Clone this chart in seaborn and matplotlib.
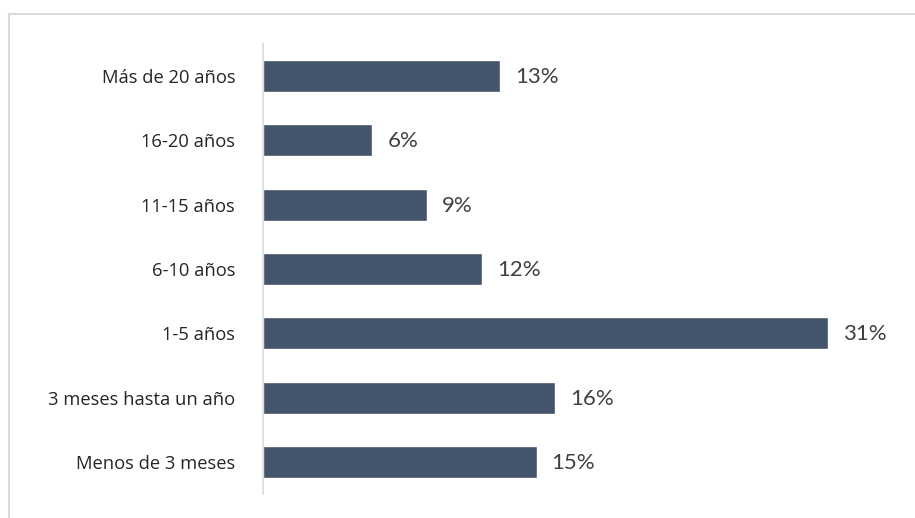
import matplotlib
matplotlib.use("Agg")
import matplotlib.pyplot as plt
from matplotlib.lines import Line2D
import seaborn as sns
import pandas as pd

# Tenure categories and their share of respondents
categories = [
    "Más de 20 años",
    "16-20 años",
    "11-15 años",
    "6-10 años",
    "1-5 años",
    "3 meses hasta un año",
    "Menos de 3 meses",
]
shares = [13, 6, 9, 12, 31, 16, 15]

df = pd.DataFrame({"categoria": categories, "porcentaje": shares})

sns.set_theme(style="white")
plt.rcParams["font.family"] = ["Open Sans", "DejaVu Sans"]

fig = plt.figure(figsize=(9.15, 5.18), dpi=100)
ax = fig.add_axes([263 / 915, 1 - 494 / 518, 620 / 915, 450 / 518])

sns.barplot(
    data=df, x="porcentaje", y="categoria", order=categories,
    color="#44546A", saturation=1, width=0.5, ax=ax, orient="h",
)

ax.set_xlim(0, 34)
ax.set_ylim(6.5, -0.5)
ax.set_xlabel("")
ax.set_ylabel("")
ax.set_xticks([])
for side in ("top", "right", "bottom"):
    ax.spines[side].set_visible(False)
ax.spines["left"].set_color("#d9d9d9")
ax.spines["left"].set_linewidth(1.2)
ax.tick_params(axis="y", length=0, pad=20, labelsize=13.2, labelcolor="#262626")

# Value labels at the end of each bar
for i, v in enumerate(shares):
    ax.annotate(
        f"{v}%", xy=(v, i), xytext=(15, -1), textcoords="offset pixels",
        ha="left", va="center", fontsize=16, color="#404040",
        family=["Lato", "DejaVu Sans"],
    )

# Light frame around the chart area
fig.add_artist(Line2D([9 / 915, 9 / 915], [0, 1 - 14 / 518],
                      transform=fig.transFigure, color="#d9d9d9", lw=1.5))
fig.add_artist(Line2D([9 / 915, 1], [1 - 14 / 518, 1 - 14 / 518],
                      transform=fig.transFigure, color="#d9d9d9", lw=1.5))

fig.savefig("out.png", dpi=100, facecolor="white")
